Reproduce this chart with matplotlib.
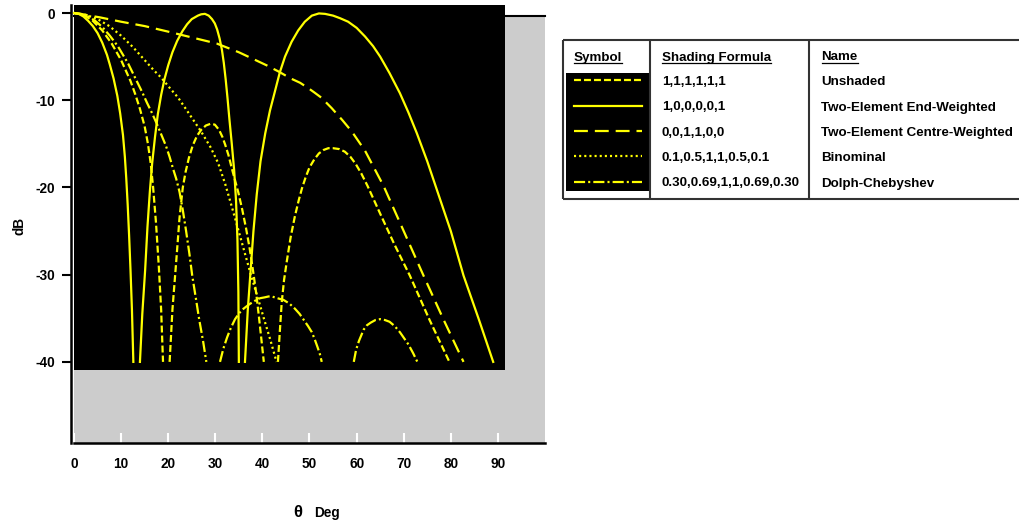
import numpy as np
import matplotlib
matplotlib.use("Agg")
import matplotlib.pyplot as plt
from matplotlib.patches import Rectangle

nan = np.nan

# (deg, dB); nan splits the lobes where they drop below -40 dB
unshaded_deg = [0, 2, 4, 6, 8, 10, 12, 13, 14, 15, 15.7, 16.3, 16.8, 17.4, 18.0, 18.5, 18.9, nan,
                20.3, 20.9, 21.7, 22.4, 23.1, 23.7, 24.4, 25.2, 26.1, 27.0, 28.0, 29.0, 29.9,
                30.8, 31.5, 32.1, 32.8, 33.5, 34.2, 34.9, 35.7, 36.5, 37.3, 38.0, 38.7, 39.3,
                39.8, 40.3, nan,
                43.3, 43.7, 44.1, 44.6, 45.2, 46.0, 46.9, 47.7, 48.4, 49.2, 50.0, 51.0, 52.0,
                53.0, 54.0, 55.0, 56.3, 57.5, 58.7, 59.8, 61.0, 62.3, 65.0, 68.0, 71.3, 75.5, 79.7]
unshaded_db = [0, -0.2, -0.9, -2.0, -3.5, -5.4, -7.8, -9.3, -11.0, -13.0, -15.0, -17.3, -20.0,
               -24.0, -29.0, -34.0, -40.0, nan,
               -40.0, -34.0, -28.5, -23.5, -20.0, -18.2, -16.6, -15.2, -14.1, -13.4, -12.9,
               -12.7, -12.8, -13.4, -14.2, -15.1, -16.3, -17.8, -19.2, -20.6, -22.5, -24.6,
               -27.0, -29.5, -32.2, -35.0, -37.5, -40.0, nan,
               -40.0, -36.5, -33.2, -30.6, -28.4, -25.7, -23.3, -21.5, -20.1, -18.8, -17.7,
               -16.8, -16.1, -15.7, -15.5, -15.5, -15.6, -15.9, -16.5, -17.3, -18.4, -19.8,
               -23.0, -26.5, -30.1, -35.2, -40.0]

end_deg = [0, 1, 2, 3, 4, 5, 6, 7, 7.6, 8.4, 9.2, 9.8, 10.4, 10.8, 11.1, 11.4, 11.7, 12.0, 12.3,
           12.6, nan,
           14.0, 14.5, 15.1, 15.6, 16.1, 16.6, 17.2, 17.8, 18.5, 19.2, 20.0, 20.9, 21.9, 23.0,
           24.0, 25.0, 26.3, 27.0, 27.8, 28.6, 29.3, 29.9, 30.4, 30.9, 31.4, 31.8, 32.2, 32.6,
           33.0, 33.5, 34.0, 34.4, 34.7, 34.9, 35.0, nan,
           36.3, 36.9, 37.5, 38.1, 38.8, 39.6, 40.6, 41.6, 42.7, 43.7, 44.8, 46.2, 47.6, 49.0,
           50.5, 52.0, 53.3, 55.0, 56.5, 58.2, 60.0, 61.8, 63.5, 65.0, 67.0, 69.2, 71.0, 72.8,
           75.0, 77.0, 80.0, 82.7, 86.0, 89.0]
end_db = [0, -0.1, -0.4, -0.9, -1.5, -2.3, -3.4, -4.8, -5.9, -7.5, -9.5, -11.5, -14.0, -16.5,
          -19.0, -22.0, -25.5, -29.5, -34.0, -40.0, nan,
          -40.0, -34.5, -29.5, -24.5, -20.5, -17.2, -14.2, -11.6, -9.4, -7.6, -6.0, -4.5, -3.2,
          -2.1, -1.3, -0.7, -0.3, -0.15, -0.1, -0.3, -0.7, -1.2, -1.9, -2.9, -4.2, -5.7, -7.6,
          -9.8, -12.2, -15.0, -18.0, -21.5, -26.0, -32.0, -40.0, nan,
          -40.0, -34.0, -29.5, -25.0, -20.8, -17.0, -13.8, -11.2, -8.9, -6.8, -5.0, -3.3, -2.0,
          -1.0, -0.3, -0.05, -0.1, -0.3, -0.6, -1.0, -1.7, -2.7, -3.8, -5.0, -6.9, -9.2, -11.4,
          -13.8, -17.0, -20.2, -25.0, -30.1, -35.2, -40.0]

centre_deg = [0, 5.5, 10, 15, 19.7, 25, 30.3, 35, 40.9, 43.4, 46, 48, 49.7, 51, 52.5, 54.7, 57,
              59, 61.8, 65.7, 70, 74.2, 78.5, 82.7]
centre_db = [0, -0.5, -1.0, -1.5, -2.1, -2.8, -3.5, -4.5, -6.0, -6.7, -7.5, -8.0, -8.6, -9.1,
             -9.7, -10.9, -12.3, -13.6, -15.8, -19.8, -25.0, -30.1, -35.2, -40.0]

binom_deg = [0, 2.5, 5, 7.5, 10, 12.5, 15, 17, 18.5, 20.5, 22.1, 23.5, 25, 27, 29, 30.6, 32.1,
             33.5, 34.8, 36.2, 37.6, 39.0, 40.3, 41.7, 43.0]
binom_db = [0, -0.2, -0.7, -1.5, -2.6, -3.9, -5.4, -6.6, -7.4, -8.7, -9.7, -10.8, -12.0, -13.6,
            -15.4, -17.2, -19.6, -22.2, -24.7, -27.4, -30.1, -32.6, -35.0, -37.5, -40.0]

dolph_deg = [0, 1.5, 3, 4.5, 6, 7.6, 9.3, 10.4, 11.5, 12.5, 13.5, 14.5, 15.5, 16.5, 17.5, 18.5,
             19.5, 20.3, 21.0, 21.7, 22.4, 23.1, 23.8, 24.5, 25.1, 25.9, 26.6, 27.4, 28.1, nan,
             31.0, 31.7, 32.5, 33.3, 34.2, 35.1, 36.0, 37.2, 38.4, 39.5, 40.5, 41.3, 42.0,
             43.2, 44.5, 45.7, 46.9, 47.9, 48.8, 49.7, 50.5, 51.1, 51.7, 52.2, 52.6, nan,
             59.4, 59.9, 60.5, 61.5, 62.2, 63.0, 64.0, 65.0, 66.0, 67.0, 68.1, 69.2, 70.1,
             71.0, 72.0, 72.9]
dolph_db = [0, -0.1, -0.4, -0.9, -1.6, -2.6, -3.8, -4.8, -5.8, -6.9, -8.0, -9.1, -10.3, -11.4,
            -12.6, -13.9, -15.2, -16.5, -17.8, -19.0, -20.5, -22.6, -25.0, -27.6, -30.1, -32.8,
            -35.2, -37.6, -40.0, nan,
            -40.0, -38.5, -37.2, -36.1, -35.1, -34.4, -33.9, -33.4, -33.0, -32.7, -32.6, -32.5,
            -32.5, -32.7, -32.9, -33.3, -33.9, -34.5, -35.2, -35.9, -36.6, -37.4, -38.3, -39.1,
            -40.0, nan,
            -40.0, -38.6, -37.6, -36.3, -35.8, -35.5, -35.2, -35.1, -35.2, -35.4, -35.9, -36.6,
            -37.3, -38.0, -39.0, -40.0]

x_ticks = [0, 10, 20, 30, 40, 50, 60, 70, 80, 90]
y_ticks = [0, -10, -20, -30, -40]

formulas = ["1,1,1,1,1,1", "1,0,0,0,0,1", "0,0,1,1,0,0",
            "0.1,0.5,1,1,0.5,0.1", "0.30,0.69,1,1,0.69,0.30"]
names = ["Unshaded", "Two-Element End-Weighted", "Two-Element Centre-Weighted",
         "Binominal", "Dolph-Chebyshev"]

YELLOW = "#ffff00"
GRAY = "#cccccc"
FONT = ["Liberation Sans", "DejaVu Sans"]

# dash patterns in points (not scaled by line width)
STYLES = [(0, (5, 2.2)), "-", (0, (10, 5)), (0, (1.5, 2.2)), (0, (8, 2.2, 1.5, 2.2))]

plt.rcParams["font.family"] = FONT
plt.rcParams["font.weight"] = "bold"
plt.rcParams["lines.scale_dashes"] = False
plt.rcParams["axes.unicode_minus"] = False

W, H = 1020, 522
fig = plt.figure(figsize=(W / 100, H / 100), dpi=100)

ax = fig.add_axes([74 / W, 1 - 443 / H, (545 - 74) / W, (443 - 13) / H])
ax.set_xlim(0, 100)
ax.set_ylim(-49.3, 0)
ax.set_facecolor("none")

ax.add_patch(Rectangle((0, -49.3), 100, 49.3 - 0.35, facecolor=GRAY, edgecolor="none", zorder=0))
ax.plot([0, 100], [-0.35, -0.35], color="black", lw=1.5, zorder=0.5, clip_on=False)
ax.add_patch(Rectangle((0, -40.95), 91.5, 41.85, facecolor="black", edgecolor="none",
                       zorder=1, clip_on=False))

series = [(unshaded_deg, unshaded_db), (end_deg, end_db), (centre_deg, centre_db),
          (binom_deg, binom_db), (dolph_deg, dolph_db)]
for (xs, ys), ls in zip(series, STYLES):
    ax.plot(xs, ys, color=YELLOW, lw=1.6, linestyle=ls, zorder=2, clip_on=False)

for side in ["top", "right"]:
    ax.spines[side].set_visible(False)
ax.spines["left"].set_position(("outward", 2.5))
ax.spines["left"].set_linewidth(1.8)
ax.spines["left"].set_bounds(-49.3, 0.9)
ax.spines["bottom"].set_linewidth(1.8)

ax.set_xticks(x_ticks)
ax.set_yticks(y_ticks)
ax.tick_params(axis="x", direction="in", length=7, width=1.5, color="white", pad=10,
               labelsize=9.8)
ax.tick_params(axis="y", direction="out", length=6.5, width=1.5, color="black", pad=4.5,
               labelsize=9.8)
for lab in ax.get_xticklabels() + ax.get_yticklabels():
    lab.set_fontweight("bold")

# overlay in pixel coordinates for the labels and the symbol table
ov = fig.add_axes([0, 0, 1, 1])
ov.set_xlim(0, W)
ov.set_ylim(H, 0)
ov.axis("off")
ov.patch.set_alpha(0)

ov.text(20, 226, "dB", rotation=90, ha="center", va="center", fontsize=9.8, fontweight="bold")
ov.text(298, 517, "θ", ha="center", va="baseline", fontsize=12, fontweight="bold")
ov.text(314, 517, "Deg", ha="left", va="baseline", fontsize=9.8, fontweight="bold")

line_kw = dict(color="#333333", lw=1.5, solid_capstyle="butt")
ov.plot([563, W], [40, 40], **line_kw)
ov.plot([563, W], [199, 199], **line_kw)
for x in [563, 650, 809]:
    ov.plot([x, x], [40, 199], **line_kw)

ov.add_patch(Rectangle((566, 73), 85, 118, facecolor="black", edgecolor="none"))

headers = [(574, "Symbol"), (662, "Shading Formula"), (821.5, "Name")]
head_texts = [ov.text(x, 60.5, s, ha="left", va="baseline", fontsize=9.6, fontweight="bold")
              for x, s in headers]

baselines = [85, 110.5, 136, 161, 186.5]
for i, (ls, f, n) in enumerate(zip(STYLES, formulas, names)):
    yc = baselines[i] - 4.6
    ov.plot([574, 642], [yc, yc], color=YELLOW, lw=1.6, linestyle=ls)
    ov.text(662, baselines[i], f, ha="left", va="baseline", fontsize=9.6, fontweight="bold")
    ov.text(821.5, baselines[i], n, ha="left", va="baseline", fontsize=9.6, fontweight="bold")

fig.canvas.draw()
inv = ov.transData.inverted()
for t in head_texts:
    bb = t.get_window_extent()
    x0 = inv.transform((bb.x0, bb.y0))[0]
    x1 = inv.transform((bb.x1, bb.y0))[0]
    ov.plot([x0, x1], [62.5, 62.5], color="black", lw=0.9)

fig.savefig("out.png", dpi=100)
